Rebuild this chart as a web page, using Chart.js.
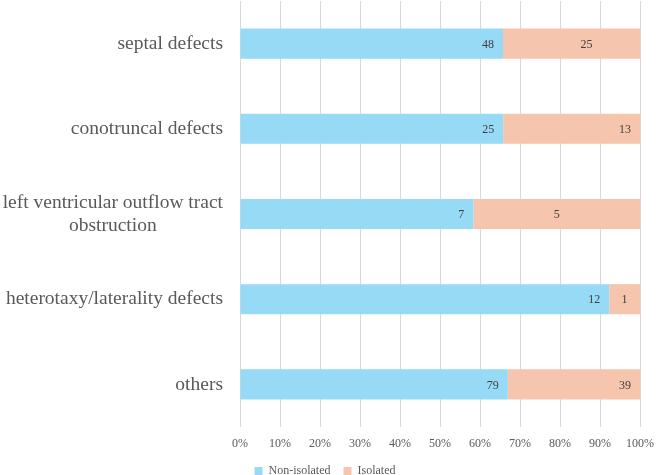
<!DOCTYPE html>
<html>
<head>
<meta charset="utf-8">
<script src="https://cdn.jsdelivr.net/npm/chart.js@4/dist/chart.umd.min.js"></script>
<style>
  html, body { margin: 0; padding: 0; background: #fff; }
  #wrap { width: 656px; height: 475px; position: relative; }
</style>
</head>
<body>
<div id="wrap"><canvas id="chart"></canvas></div>
<script>
// categories, top to bottom
const categories = [
  "septal defects",
  "conotruncal defects",
  ["left ventricular outflow tract", "obstruction"],
  "heterotaxy/laterality defects",
  "others"
];
const nonIsolated = [48, 25, 7, 12, 79];
const isolated = [25, 13, 5, 1, 39];
const xTicks = [0, 10, 20, 30, 40, 50, 60, 70, 80, 90, 100];

const FONT = "'Liberation Serif', 'Times New Roman', serif";

// 100% stack built from counts
function toPct(part, i) {
  return part[i] / (nonIsolated[i] + isolated[i]) * 100;
}
const nonPct = nonIsolated.map((v, i) => toPct(nonIsolated, i));
const isoPct = isolated.map((v, i) => toPct(isolated, i));

// where each count label sits along its segment ("end" = inside end)
const labelSpots = [
  ["end", "end", "end", "end", "end"],
  [0.61, "end", 0.5, 0.5, "end"]
];
const counts = [nonIsolated, isolated];

const countLabels = {
  id: "countLabels",
  afterDatasetsDraw(chart) {
    const ctx = chart.ctx;
    ctx.save();
    ctx.font = "12px " + FONT;
    ctx.fillStyle = "#404040";
    ctx.textBaseline = "middle";
    chart.data.datasets.forEach((ds, d) => {
      chart.getDatasetMeta(d).data.forEach((bar, i) => {
        const spot = labelSpots[d][i];
        const txt = String(counts[d][i]);
        if (spot === "end") {
          ctx.textAlign = "right";
          ctx.fillText(txt, bar.x - 9, bar.y + 1);
        } else {
          ctx.textAlign = "center";
          ctx.fillText(txt, bar.base + (bar.x - bar.base) * spot, bar.y + 1);
        }
      });
    });
    ctx.restore();
  }
};

// category labels: right aligned, wrapped lines centred on each other
const catLabels = {
  id: "catLabels",
  afterDraw(chart) {
    const ctx = chart.ctx;
    const y = chart.scales.y;
    const right = 223;
    const lh = 23;
    ctx.save();
    ctx.font = "19.5px " + FONT;
    ctx.fillStyle = "#595959";
    ctx.textBaseline = "middle";
    categories.forEach((c, i) => {
      const lines = Array.isArray(c) ? c : [c];
      const cy = y.getPixelForTick(i);
      const widest = Math.max(...lines.map(l => ctx.measureText(l).width));
      const mid = right - widest / 2;
      ctx.textAlign = "center";
      lines.forEach((l, k) => {
        ctx.fillText(l, mid, cy + (k - (lines.length - 1) / 2) * lh);
      });
    });
    ctx.restore();
  }
};

new Chart(document.getElementById("chart"), {
  type: "bar",
  data: {
    labels: categories,
    datasets: [
      {
        label: "Non-isolated",
        data: nonPct,
        backgroundColor: "#97daf6",
        barPercentage: 0.353,
        categoryPercentage: 1
      },
      {
        label: "Isolated",
        data: isoPct,
        backgroundColor: "#f6c5ad",
        barPercentage: 0.353,
        categoryPercentage: 1
      }
    ]
  },
  options: {
    indexAxis: "y",
    responsive: true,
    maintainAspectRatio: false,
    animation: false,
    layout: { padding: { top: 1, right: 16, left: 10, bottom: -12 } },
    scales: {
      x: {
        stacked: true,
        min: 0,
        max: 100,
        afterBuildTicks(s) {
          s.ticks = xTicks.map(v => ({ value: v }));
        },
        afterFit(s) {
          s.height = 25;
          s.paddingLeft = 0;
          s.paddingRight = 0;
        },
        grid: { color: "#d9d9d9", drawTicks: false },
        border: { display: false },
        ticks: {
          padding: 10,
          color: "#595959",
          font: { family: FONT, size: 12 },
          maxRotation: 0,
          callback: v => v + "%"
        }
      },
      y: {
        stacked: true,
        afterFit(s) { s.width = 230; },
        grid: { display: false },
        border: { display: false },
        ticks: { display: false }
      }
    },
    plugins: {
      legend: {
        position: "bottom",
        labels: {
          boxWidth: 8,
          boxHeight: 8,
          padding: 13,
          color: "#595959",
          font: { family: FONT, size: 12 }
        }
      },
      tooltip: { enabled: false }
    }
  },
  plugins: [countLabels, catLabels]
});
</script>
</body>
</html>
